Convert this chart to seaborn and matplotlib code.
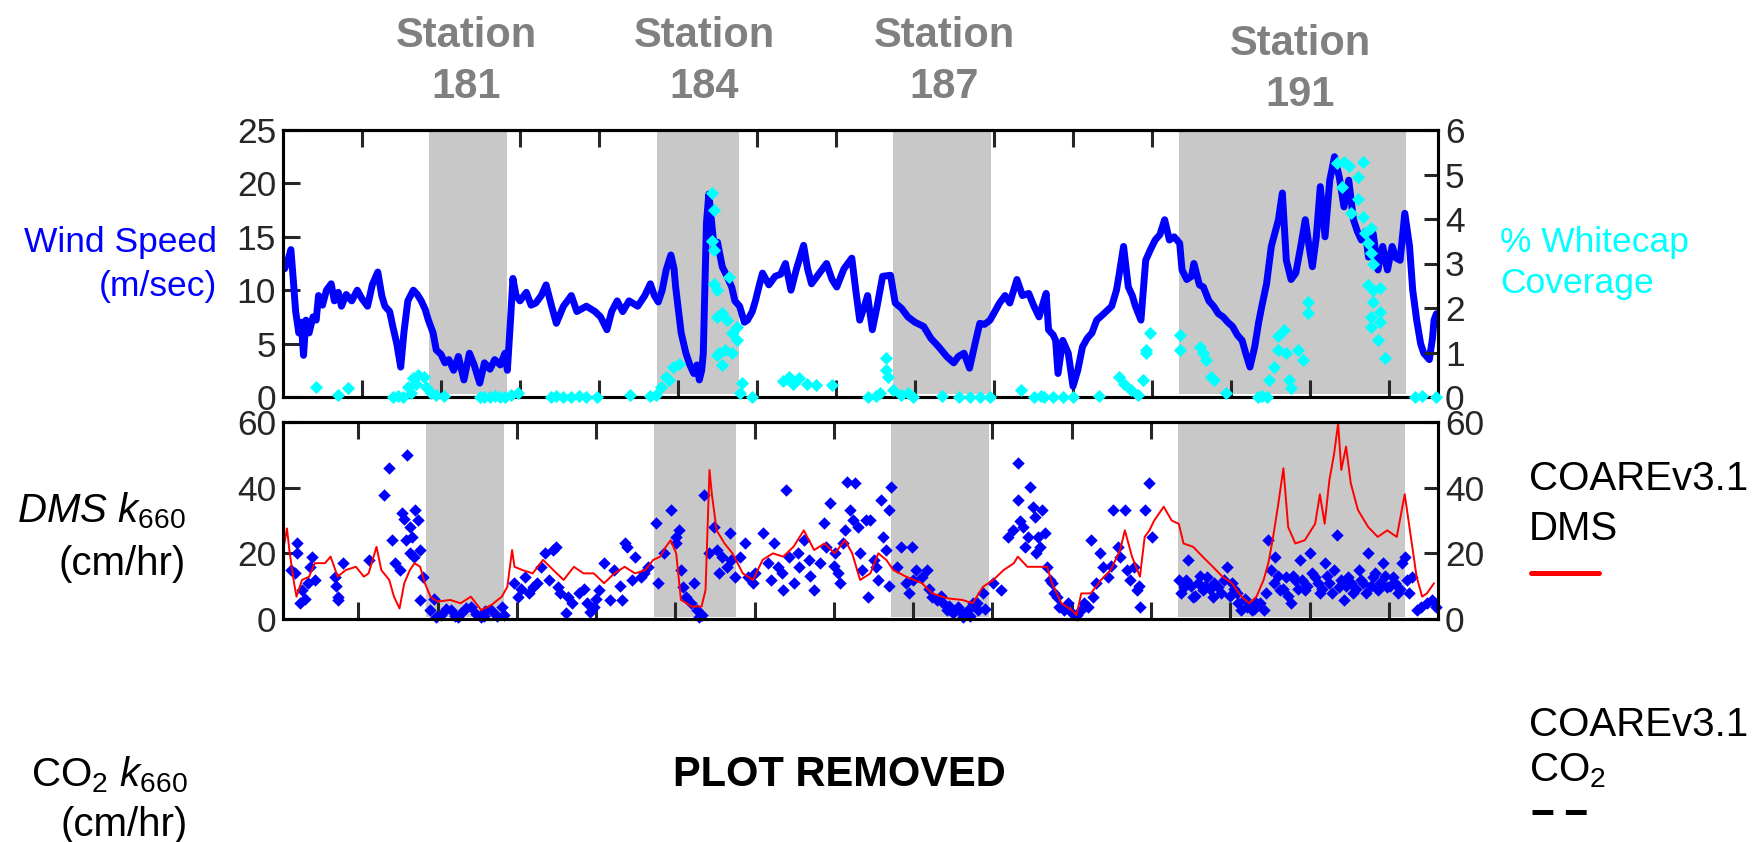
import matplotlib
matplotlib.use("Agg")
import matplotlib.pyplot as plt
from matplotlib.lines import Line2D
import seaborn as sns

# ---------------- data ----------------
station_names = ["181", "184", "187", "191"]
station_start = [1.85, 4.73, 7.72, 11.34]
station_end = [2.84, 5.77, 8.96, 14.21]
station_label_x = [466, 704, 944, 1300]
station_label_y = [47, 47, 47, 55]

x_ticks = list(range(1, 15))
wind_ticks = [0, 5, 10, 15, 20, 25]
wc_ticks = [0, 1, 2, 3, 4, 5, 6]
k_ticks = [0, 20, 40, 60]

wind_day = [0.02, 0.07, 0.10, 0.13, 0.16, 0.20, 0.23, 0.26, 0.29, 0.33, 0.38, 0.42, 0.45, 0.50, 0.55, 0.61,
            0.65, 0.70, 0.74, 0.80, 0.87, 0.94, 1.00, 1.07, 1.13, 1.20, 1.25, 1.29, 1.35, 1.39, 1.44, 1.49,
            1.53, 1.58, 1.65, 1.70, 1.75, 1.80, 1.84, 1.90, 1.94, 2.00, 2.05, 2.10, 2.16, 2.22, 2.29, 2.36,
            2.42, 2.49, 2.55, 2.62, 2.68, 2.75, 2.81, 2.84, 2.88, 2.91, 2.95, 3.00, 3.08, 3.14, 3.20, 3.27,
            3.33, 3.40, 3.46, 3.55, 3.65, 3.72, 3.84, 3.95, 4.02, 4.10, 4.16, 4.23, 4.30, 4.38, 4.49, 4.58,
            4.65, 4.70, 4.75, 4.80, 4.85, 4.91, 4.95, 4.97, 5.04, 5.10, 5.15, 5.20, 5.24, 5.27, 5.30, 5.32,
            5.34, 5.36, 5.39, 5.43, 5.46, 5.50, 5.56, 5.62, 5.68, 5.72, 5.78, 5.84, 5.88, 5.94, 5.98, 6.03,
            6.07, 6.15, 6.23, 6.30, 6.36, 6.43, 6.50, 6.59, 6.64, 6.69, 6.78, 6.88, 6.95, 7.01, 7.10, 7.20,
            7.25, 7.30, 7.36, 7.40, 7.46, 7.52, 7.59, 7.69, 7.75, 7.83, 7.91, 8.00, 8.11, 8.20, 8.30, 8.40,
            8.49, 8.55, 8.62, 8.69, 8.76, 8.82, 8.88, 8.95, 9.01, 9.07, 9.14, 9.20, 9.29, 9.36, 9.44, 9.50,
            9.57, 9.63, 9.66, 9.69, 9.75, 9.78, 9.81, 9.87, 9.94, 10.00, 10.06, 10.12, 10.18, 10.24, 10.30, 10.39,
            10.49, 10.55, 10.58, 10.64, 10.70, 10.75, 10.79, 10.86, 10.92, 10.98, 11.04, 11.10, 11.16, 11.22, 11.28, 11.35,
            11.38, 11.44, 11.50, 11.53, 11.60, 11.65, 11.72, 11.78, 11.84, 11.90, 11.96, 12.02, 12.08, 12.14, 12.19, 12.24,
            12.30, 12.35, 12.39, 12.45, 12.51, 12.56, 12.60, 12.65, 12.70, 12.76, 12.82, 12.88, 12.94, 12.99, 13.03, 13.08,
            13.13, 13.19, 13.25, 13.31, 13.37, 13.43, 13.49, 13.55, 13.60, 13.65, 13.70, 13.74, 13.80, 13.86, 13.92, 13.98,
            14.04, 14.09, 14.14, 14.20, 14.26, 14.30, 14.35, 14.40, 14.44, 14.51, 14.55, 14.57, 14.60]
wind_speed = [12.0, 13.0, 13.8, 11.0, 8.0, 6.0, 7.0, 3.9, 7.2, 6.0, 7.5, 7.2, 9.5, 8.6, 10.0, 10.6,
              9.0, 9.8, 8.5, 9.6, 9.0, 10.0, 9.2, 8.5, 10.5, 11.7, 9.5, 8.5, 8.0, 6.6, 5.0, 2.8,
              6.0, 9.0, 10.0, 9.6, 9.0, 8.2, 7.2, 6.0, 4.4, 4.0, 3.2, 3.5, 2.5, 3.8, 1.6, 4.1,
              3.0, 1.3, 3.2, 2.6, 3.5, 3.0, 4.1, 2.5, 7.2, 11.1, 9.5, 9.0, 9.8, 8.6, 8.8, 9.5,
              10.5, 8.5, 6.9, 8.5, 9.5, 8.0, 8.5, 8.0, 7.5, 6.3, 8.0, 9.0, 8.0, 9.0, 8.5, 9.5,
              10.6, 9.5, 8.9, 10.0, 11.9, 13.3, 12.0, 10.3, 6.0, 4.1, 3.0, 2.2, 3.0, 1.6, 2.5, 4.1,
              10.0, 16.3, 19.0, 16.0, 13.8, 14.5, 12.2, 11.3, 10.3, 9.0, 8.5, 7.0, 7.2, 8.0, 9.0, 10.5,
              11.6, 10.5, 11.3, 11.5, 12.5, 10.0, 12.0, 14.2, 12.0, 10.6, 11.5, 12.5, 11.0, 10.3, 12.0, 13.0,
              10.0, 7.2, 8.5, 9.5, 6.3, 8.5, 11.3, 11.4, 8.8, 8.3, 7.5, 7.0, 6.6, 5.5, 4.7, 3.8,
              3.2, 3.8, 4.1, 2.7, 5.0, 6.9, 6.8, 7.2, 8.0, 8.8, 9.5, 8.8, 11.0, 9.5, 9.7, 8.6,
              7.5, 9.0, 9.7, 6.3, 5.8, 5.3, 2.2, 5.3, 4.1, 1.0, 2.5, 4.7, 5.5, 6.0, 7.2, 7.8,
              8.5, 10.0, 11.3, 14.1, 10.3, 9.5, 8.5, 7.2, 12.8, 13.8, 14.7, 15.2, 16.6, 14.7, 15.0, 14.4,
              11.9, 11.0, 11.3, 12.5, 10.5, 10.3, 9.0, 8.5, 7.8, 7.5, 7.0, 6.6, 5.8, 5.3, 4.0, 2.8,
              4.7, 7.0, 8.5, 10.6, 14.1, 15.5, 16.6, 19.1, 12.8, 11.0, 11.6, 14.0, 16.6, 14.0, 12.2, 15.0,
              19.7, 15.0, 20.3, 22.5, 20.6, 17.8, 20.3, 16.6, 15.5, 14.7, 15.5, 13.1, 15.3, 11.9, 14.1, 11.9,
              14.1, 13.0, 12.8, 17.2, 14.1, 10.0, 7.2, 5.0, 4.1, 3.5, 5.5, 7.2, 7.8]

wc_day = [0.42, 0.70, 0.82, 1.39, 1.45, 1.52, 1.58, 1.62, 1.65, 1.68, 1.71, 1.78, 1.81, 1.87, 1.94, 2.04,
          2.49, 2.55, 2.62, 2.68, 2.75, 2.81, 2.88, 2.97, 3.39, 3.46, 3.55, 3.65, 3.75, 3.84, 3.97, 4.39,
          4.65, 4.72, 4.78, 4.85, 4.88, 4.94, 5.01, 5.43, 5.45, 5.43, 5.46, 5.46, 5.49, 5.49, 5.56, 5.62,
          5.52, 5.59, 5.49, 5.56, 5.68, 5.68, 5.75, 5.75, 5.65, 5.81, 5.78, 5.94, 6.33, 6.40, 6.46, 6.53,
          6.63, 6.75, 6.95, 7.40, 7.50, 7.56, 7.63, 7.63, 7.66, 7.72, 7.82, 7.91, 7.97, 8.34, 8.56, 8.69,
          8.82, 8.95, 9.34, 9.59, 9.51, 9.63, 9.75, 9.87, 10.00, 10.33, 10.58, 10.64, 10.73, 10.82, 10.88, 10.92,
          10.92, 10.98, 11.35, 11.35, 11.61, 11.65, 11.68, 11.75, 11.78, 11.94, 12.34, 12.39, 12.45, 12.48, 12.54, 12.60,
          12.60, 12.67, 12.70, 12.73, 12.76, 12.85, 12.91, 12.97, 12.97, 13.34, 13.43, 13.49, 13.67, 13.40, 13.61, 13.61,
          13.52, 13.67, 13.70, 13.77, 13.74, 13.77, 13.80, 13.74, 13.80, 13.89, 13.80, 13.77, 13.89, 13.77, 13.89, 13.86,
          13.95, 14.33, 14.42, 14.60]
wc_pct = [0.23, 0.05, 0.20, 0.00, 0.02, 0.00, 0.23, 0.10, 0.42, 0.30, 0.50, 0.46, 0.23, 0.08, 0.05, 0.02,
          0.00, 0.00, 0.00, 0.02, 0.00, 0.00, 0.05, 0.08, 0.00, 0.02, 0.00, 0.00, 0.02, 0.00, 0.00, 0.05,
          0.02, 0.05, 0.23, 0.46, 0.38, 0.68, 0.75, 4.58, 4.20, 3.50, 3.30, 2.55, 2.40, 1.80, 1.88, 1.73,
          0.98, 1.06, 0.95, 0.72, 0.98, 1.43, 1.58, 1.28, 2.70, 0.31, 0.08, 0.00, 0.35, 0.45, 0.30, 0.42,
          0.30, 0.27, 0.27, 0.00, 0.02, 0.10, 0.87, 0.60, 0.46, 0.15, 0.05, 0.10, 0.00, 0.02, 0.00, 0.00,
          0.00, 0.00, 0.16, 0.02, 0.00, 0.00, 0.00, 0.00, 0.00, 0.02, 0.46, 0.30, 0.16, 0.05, 0.38, 0.98,
          1.06, 1.43, 1.40, 1.06, 1.13, 0.98, 0.83, 0.46, 0.38, 0.08, 0.00, 0.02, 0.00, 0.38, 0.68, 1.06,
          1.36, 1.50, 0.98, 0.38, 0.20, 1.06, 0.83, 2.14, 1.88, 5.25, 5.29, 5.20, 5.29, 4.73, 4.95, 4.46,
          4.13, 4.05, 3.68, 3.79, 3.45, 3.23, 3.00, 2.52, 2.40, 2.44, 2.14, 1.80, 1.92, 1.58, 1.69, 1.28,
          0.87, 0.00, 0.02, 0.00]

coare_day = [0.06, 0.10, 0.13, 0.19, 0.22, 0.29, 0.38, 0.45, 0.58, 0.65, 0.74, 0.84, 0.97, 1.07, 1.13, 1.23,
             1.29, 1.39, 1.45, 1.52, 1.58, 1.65, 1.71, 1.78, 1.84, 1.91, 2.00, 2.16, 2.29, 2.42, 2.55, 2.68,
             2.81, 2.88, 2.94, 2.97, 3.07, 3.20, 3.33, 3.46, 3.59, 3.72, 3.84, 3.97, 4.10, 4.23, 4.36, 4.49,
             4.62, 4.72, 4.81, 4.88, 4.94, 5.01, 5.07, 5.14, 5.20, 5.33, 5.38, 5.43, 5.46, 5.52, 5.62, 5.72,
             5.85, 5.98, 6.10, 6.23, 6.36, 6.49, 6.62, 6.75, 6.88, 7.01, 7.14, 7.23, 7.33, 7.46, 7.56, 7.66,
             7.75, 7.91, 8.11, 8.24, 8.43, 8.62, 8.75, 8.88, 9.01, 9.14, 9.27, 9.32, 9.44, 9.59, 9.69, 9.75,
             9.87, 10.00, 10.06, 10.12, 10.24, 10.37, 10.49, 10.61, 10.67, 10.76, 10.86, 10.92, 10.98, 11.04, 11.16, 11.26,
             11.35, 11.41, 11.53, 11.65, 11.78, 11.90, 12.02, 12.14, 12.24, 12.33, 12.42, 12.48, 12.54, 12.60, 12.67, 12.73,
             12.82, 12.94, 13.07, 13.13, 13.19, 13.25, 13.31, 13.36, 13.40, 13.46, 13.52, 13.61, 13.74, 13.86, 13.98, 14.10,
             14.20, 14.26, 14.35, 14.42, 14.48, 14.57]
coare_k = [22.0, 27.6, 21.0, 10.9, 6.8, 11.9, 12.9, 17.0, 17.0, 19.0, 12.9, 14.9, 15.9, 12.9, 13.9, 22.0,
           14.9, 11.9, 6.8, 3.2, 10.9, 14.9, 17.0, 15.9, 10.9, 6.8, 5.3, 5.8, 4.8, 6.8, 2.7, 4.3,
           6.8, 9.8, 21.0, 15.9, 14.9, 13.9, 18.0, 14.9, 11.9, 15.9, 13.9, 13.9, 10.9, 13.9, 15.9, 13.9,
           14.9, 18.0, 19.0, 22.0, 24.0, 20.0, 5.8, 4.8, 3.8, 3.8, 8.8, 45.4, 38.0, 27.0, 23.0, 20.0,
           13.9, 11.9, 18.0, 20.0, 19.0, 22.0, 27.0, 21.0, 23.0, 20.0, 24.0, 20.0, 11.9, 13.9, 20.0, 18.0,
           14.9, 12.9, 10.9, 7.8, 6.3, 5.8, 4.8, 9.8, 11.9, 14.9, 17.0, 19.0, 15.9, 15.9, 15.9, 10.9,
           4.8, 2.7, 1.2, 7.8, 7.8, 11.9, 14.9, 21.0, 27.0, 19.0, 12.9, 25.0, 27.0, 30.0, 34.2, 30.0,
           29.0, 23.0, 22.0, 19.0, 15.9, 12.9, 10.9, 6.8, 4.8, 6.8, 11.9, 17.0, 25.0, 34.2, 45.9, 28.0,
           23.0, 24.0, 29.0, 38.0, 29.0, 42.3, 50.4, 59.6, 45.4, 52.5, 41.3, 33.2, 28.0, 25.0, 27.0, 25.0,
           38.0, 28.0, 12.9, 6.8, 7.8, 10.9]

dms_day = [0.23, 0.20, 0.26, 0.29, 0.36, 0.39, 0.42, 0.23, 0.15, 0.33, 0.45, 0.71, 0.75, 0.75, 0.81, 0.72,
           1.13, 1.33, 1.39, 1.42, 1.46, 1.52, 1.55, 1.58, 1.62, 1.65, 1.68, 1.65, 1.71, 1.75, 1.78, 1.81,
           1.78, 1.60, 1.70, 1.91, 1.95, 2.04, 2.10, 2.17, 2.22, 2.30, 2.36, 2.42, 2.48, 2.55, 2.60, 2.68,
           2.75, 2.81, 2.84, 1.98, 2.26, 2.58, 2.97, 3.01, 3.10, 3.20, 3.30, 3.36, 3.46, 3.49, 3.52, 3.62,
           3.65, 3.78, 3.88, 3.97, 4.04, 4.10, 4.17, 4.23, 4.33, 4.36, 4.39, 4.49, 4.56, 4.65, 3.05, 3.15,
           3.25, 3.40, 3.55, 3.70, 3.85, 3.92, 4.00, 4.30, 4.45, 4.60, 4.75, 4.78, 4.85, 4.94, 5.01, 5.04,
           5.01, 5.07, 5.10, 5.14, 5.20, 5.23, 5.27, 5.33, 5.30, 5.36, 5.43, 5.49, 5.52, 5.59, 5.65, 5.69,
           5.75, 5.82, 5.88, 5.91, 5.98, 6.11, 6.17, 6.24, 6.30, 6.36, 6.40, 6.43, 6.49, 6.56, 6.62, 6.69,
           6.75, 6.82, 6.88, 6.95, 7.01, 7.08, 7.11, 7.14, 7.17, 7.20, 7.24, 7.27, 7.30, 7.33, 7.40, 7.43,
           7.46, 7.53, 7.59, 7.62, 7.66, 7.69, 7.72, 7.79, 7.85, 7.91, 7.98, 8.04, 8.11, 8.17, 8.24, 8.30,
           8.37, 8.43, 8.50, 8.56, 8.63, 8.69, 8.75, 8.82, 8.88, 9.01, 9.11, 5.55, 5.70, 6.00, 6.20, 6.35,
           6.55, 6.70, 6.90, 7.00, 7.05, 7.35, 7.50, 7.55, 7.70, 7.95, 8.00, 8.20, 8.35, 8.45, 8.60, 8.72,
           8.80, 8.90, 9.20, 9.26, 9.32, 9.32, 9.38, 9.41, 9.47, 9.51, 9.54, 9.57, 9.60, 9.63, 9.66, 9.69,
           9.72, 9.75, 9.81, 9.84, 9.90, 10.00, 10.06, 10.12, 10.21, 10.24, 10.27, 10.30, 10.36, 10.40, 10.46, 10.52,
           10.58, 10.61, 10.67, 10.70, 10.73, 10.79, 10.82, 10.86, 10.92, 10.98, 11.01, 9.35, 9.45, 9.55, 9.78, 9.95,
           10.15, 10.50, 10.85, 11.35, 11.41, 11.47, 11.53, 11.59, 11.65, 11.71, 11.78, 11.84, 11.96, 12.02, 12.08, 12.14,
           12.21, 12.27, 12.33, 12.42, 12.48, 12.51, 12.57, 12.63, 12.70, 12.76, 12.82, 12.88, 12.94, 13.00, 13.07, 13.13,
           13.19, 13.25, 13.31, 13.34, 13.37, 13.43, 13.49, 13.55, 13.62, 13.68, 13.74, 13.80, 13.86, 13.92, 13.98, 14.05,
           14.11, 14.17, 14.20, 14.23, 14.29, 14.35, 14.41, 14.48, 14.54, 14.60, 11.38, 11.44, 11.50, 11.56, 11.62, 11.68,
           11.74, 11.80, 11.88, 11.92, 12.00, 12.05, 12.10, 12.18, 12.24, 12.30, 12.38, 12.45, 12.55, 12.60, 12.66, 12.73,
           12.79, 12.85, 12.91, 12.97, 13.03, 13.10, 13.16, 13.22, 13.28, 13.40, 13.46, 13.52, 13.58, 13.65, 13.71, 13.77,
           13.83, 13.89, 13.95, 14.02, 14.08, 14.14, 14.26]
dms_k = [23.0, 13.9, 4.8, 8.8, 10.9, 15.9, 19.0, 20.0, 15.0, 6.0, 12.0, 12.9, 6.8, 5.8, 17.0, 10.0,
         18.0, 37.8, 45.9, 24.0, 17.0, 14.9, 32.2, 30.6, 49.9, 28.1, 25.0, 20.0, 33.2, 30.1, 21.0, 12.9,
         5.8, 24.0, 19.0, 2.7, 6.0, 1.2, 3.0, 2.7, 1.0, 1.7, 3.5, 3.8, 1.5, 0.7, 2.5, 2.7,
         1.0, 3.8, 1.2, 0.5, 0.5, 0.8, 10.9, 6.8, 12.9, 9.8, 15.9, 20.0, 21.0, 22.0, 9.8, 1.7,
         6.8, 7.8, 4.8, 3.8, 8.8, 17.0, 5.8, 14.9, 5.8, 23.0, 22.0, 19.0, 12.9, 15.9, 9.0, 8.0,
         11.0, 12.0, 8.0, 5.0, 9.0, 2.0, 6.0, 10.0, 12.0, 14.0, 29.1, 10.9, 20.0, 33.2, 25.0, 27.1,
         23.0, 14.9, 9.8, 6.8, 4.8, 10.9, 2.7, 1.2, 0.5, 37.8, 20.0, 28.1, 21.0, 19.0, 15.9, 26.1,
         12.9, 19.0, 23.0, 12.9, 10.9, 26.1, 17.0, 23.0, 15.9, 8.8, 39.3, 19.0, 10.9, 15.9, 24.0, 18.0,
         8.8, 17.0, 29.1, 35.2, 20.0, 10.9, 23.0, 27.1, 41.8, 33.2, 30.1, 41.3, 28.1, 20.0, 30.1, 6.8,
         30.1, 15.9, 36.2, 25.0, 21.0, 33.2, 40.3, 15.9, 22.0, 10.9, 22.0, 14.9, 12.9, 14.9, 6.8, 5.8,
         4.8, 2.7, 1.7, 3.8, 0.7, 2.7, 4.8, 2.7, 7.8, 10.9, 8.8, 14.0, 18.0, 14.0, 12.0, 14.0,
         20.0, 13.0, 22.0, 16.0, 14.0, 15.0, 18.0, 12.0, 10.0, 8.0, 12.0, 9.0, 7.0, 4.0, 2.0, 1.0,
         5.0, 3.0, 25.0, 27.1, 47.4, 36.2, 28.1, 22.0, 40.3, 34.2, 31.2, 25.0, 22.0, 33.2, 26.1, 15.9,
         11.9, 10.9, 6.8, 3.8, 2.7, 1.7, 1.2, 2.7, 3.8, 24.0, 6.8, 10.9, 20.0, 15.9, 12.9, 33.2,
         22.0, 19.0, 33.2, 14.9, 11.9, 15.9, 8.8, 3.8, 33.2, 41.3, 25.0, 30.0, 25.0, 20.0, 8.0, 5.0,
         5.0, 16.0, 10.0, 11.9, 9.8, 18.0, 6.8, 10.9, 8.8, 12.9, 6.8, 9.8, 15.9, 10.9, 7.8, 2.7,
         3.8, 2.7, 4.8, 2.7, 24.0, 14.9, 19.0, 8.8, 12.9, 4.8, 11.9, 18.0, 8.8, 20.0, 12.9, 7.8,
         17.0, 10.9, 14.9, 25.6, 9.8, 5.8, 12.9, 7.8, 14.9, 10.9, 20.0, 12.9, 8.8, 17.0, 9.8, 12.9,
         7.8, 17.0, 19.0, 11.9, 12.9, 2.7, 3.8, 4.8, 5.8, 3.8, 8.0, 12.0, 10.0, 7.0, 13.0, 10.0,
         9.0, 11.0, 8.0, 12.0, 7.0, 9.0, 5.0, 6.0, 4.0, 3.0, 5.0, 8.0, 11.0, 13.0, 9.0, 7.0,
         13.0, 9.0, 12.0, 10.0, 14.0, 11.0, 9.0, 13.0, 8.0, 12.0, 10.0, 11.0, 9.0, 12.0, 8.0, 10.0,
         14.0, 11.0, 13.0, 10.0, 11.0, 9.0, 8.0]

# ---------------- style ----------------
sns.set_style("ticks")
plt.rcParams["font.family"] = ["Liberation Sans", "DejaVu Sans"]
plt.rcParams["mathtext.fontset"] = "custom"
plt.rcParams["mathtext.rm"] = "Liberation Sans"
plt.rcParams["mathtext.it"] = "Liberation Sans:italic"
plt.rcParams["mathtext.bf"] = "Liberation Sans:bold"
plt.rcParams["lines.scale_dashes"] = False

W, H = 1760, 842
fig = plt.figure(figsize=(W / 100, H / 100), dpi=100)


def fx(px):
    return px / W


def fy(py):
    return 1 - py / H


XMIN, XMAX = 0.0, 14.62
GRAY = "#c8c8c8"
TICK_FS = 25.5
SPINE_W = 2.2


def style_axes(ax, left_ticks, right_ax, right_ticks, ylim_l, ylim_r):
    ax.set_xlim(XMIN, XMAX)
    ax.set_ylim(*ylim_l)
    right_ax.set_ylim(*ylim_r)
    for a in (ax, right_ax):
        for s in a.spines.values():
            s.set_linewidth(SPINE_W)
            s.set_color("black")
    ax.set_xticks(x_ticks)
    ax.set_xticklabels([])
    ax.set_yticks(left_ticks)
    ax.set_yticklabels([str(t) for t in left_ticks], fontsize=TICK_FS)
    ax.tick_params(axis="x", direction="in", length=12, width=2.2, bottom=True, top=False)
    ax.tick_params(axis="y", direction="in", length=12, width=2.2, pad=5, left=True, right=False)
    right_ax.set_yticks(right_ticks)
    right_ax.set_yticklabels([str(t) for t in right_ticks], fontsize=TICK_FS)
    right_ax.tick_params(axis="y", direction="in", length=10, width=2.2, pad=5)
    top_ticks = [t for t in x_ticks
                 if not any(a <= t <= b for a, b in zip(station_start, station_end))]
    sec = ax.secondary_xaxis("top")
    sec.set_xticks(top_ticks)
    sec.set_xticklabels([])
    sec.tick_params(direction="in", length=12, width=2.2)
    sec.spines["top"].set_linewidth(SPINE_W)
    for a, b in zip(station_start, station_end):
        ax.axvspan(a, b, ymin=0.01, ymax=0.995, color=GRAY, lw=0, zorder=0)
    ax.set_xlabel("")
    ax.set_ylabel("")
    right_ax.set_ylabel("")


# ---------------- top panel ----------------
ax1 = fig.add_axes([fx(283), fy(397), (1438 - 283) / W, (397 - 130) / H])
ax1r = ax1.twinx()
sns.lineplot(x=wind_day, y=wind_speed, ax=ax1, color="#0000ff", lw=5.0,
             estimator=None, sort=False, zorder=3)
sns.scatterplot(x=wc_day, y=wc_pct, ax=ax1r, color="#00ffff", marker="D", s=45,
                linewidth=0, clip_on=False, zorder=4)
style_axes(ax1, wind_ticks, ax1r, wc_ticks, (0, 25), (0, 6))

# ---------------- middle panel ----------------
ax2 = fig.add_axes([fx(283), fy(619), (1438 - 283) / W, (619 - 422) / H])
ax2r = ax2.twinx()
sns.scatterplot(x=dms_day, y=dms_k, ax=ax2, color="#0000ff", marker="D", s=40,
                linewidth=0, clip_on=False, zorder=3)
sns.lineplot(x=coare_day, y=coare_k, ax=ax2, color="#ff0000", lw=1.4,
             estimator=None, sort=False, zorder=4)
style_axes(ax2, k_ticks, ax2r, k_ticks, (0, 60), (0, 60))
ax2.set_xlim(0.05, XMAX)

# ---------------- station labels ----------------
for name, sx, sy in zip(station_names, station_label_x, station_label_y):
    fig.text(fx(sx), fy(sy), "Station", ha="center", va="baseline", fontsize=30,
             fontweight="bold", color="#808080")
    fig.text(fx(sx), fy(sy + 51), name, ha="center", va="baseline", fontsize=30,
             fontweight="bold", color="#808080")

# ---------------- side labels ----------------
fig.text(fx(217), fy(252), "Wind Speed", ha="right", va="baseline", fontsize=25.5, color="#0000ff")
fig.text(fx(217), fy(296), "(m/sec)", ha="right", va="baseline", fontsize=25.5, color="#0000ff")
fig.text(fx(1500), fy(252), "% Whitecap", ha="left", va="baseline", fontsize=25.5, color="#00ffff")
fig.text(fx(1500), fy(293), "Coverage", ha="left", va="baseline", fontsize=25.5, color="#00ffff")

fig.text(fx(186), fy(522), r"DMS $k_{\mathit{660}}$", ha="right", va="baseline", fontsize=29,
         fontstyle="italic", color="black")
fig.text(fx(186), fy(575), "(cm/hr)", ha="right", va="baseline", fontsize=29, color="black")
fig.text(fx(1529), fy(490), "COAREv3.1", ha="left", va="baseline", fontsize=29, color="black")
fig.text(fx(1529), fy(540), "DMS", ha="left", va="baseline", fontsize=29, color="black")
fig.add_artist(Line2D([fx(1531), fx(1599)], [fy(573), fy(573)], color="#ff0000", lw=3.6,
                      transform=fig.transFigure))

fig.text(fx(188), fy(786), r"CO$_2$ $k_{\mathit{660}}$", ha="right", va="baseline", fontsize=29,
         color="black")
fig.text(fx(188), fy(836), "(cm/hr)", ha="right", va="baseline", fontsize=29, color="black")
fig.text(fx(839), fy(786), "PLOT REMOVED", ha="center", va="baseline", fontsize=30,
         fontweight="bold", color="black")
fig.text(fx(1529), fy(736), "COAREv3.1", ha="left", va="baseline", fontsize=29, color="black")
fig.text(fx(1529), fy(781), r"CO$_2$", ha="left", va="baseline", fontsize=29, color="black")
fig.add_artist(Line2D([fx(1532), fx(1588)], [fy(812), fy(812)], color="black", lw=3.6,
                      dashes=(15, 9), transform=fig.transFigure))

fig.savefig("out.png", dpi=100)
